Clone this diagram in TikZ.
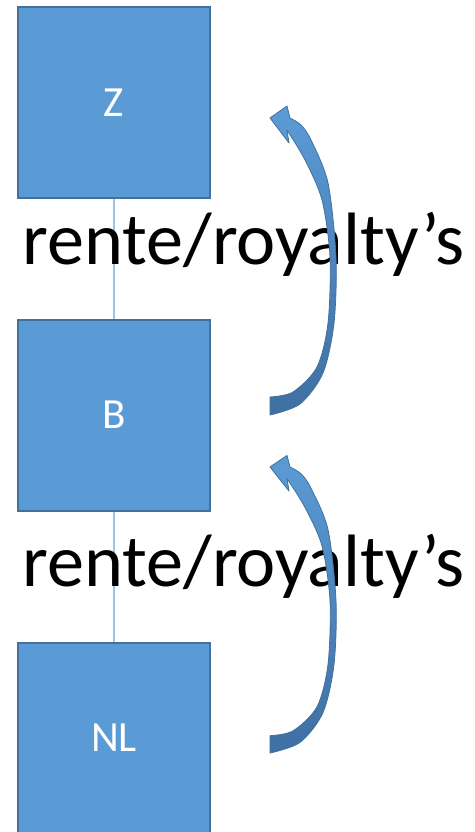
\documentclass[tikz,border=0pt]{standalone}
\usepackage{fontspec}
\setmainfont{Carlito}
\definecolor{boxfill}{HTML}{5B9BD5}
\definecolor{boxline}{HTML}{41719C}
\definecolor{linkline}{HTML}{9DC3E6}
\definecolor{arrowdark}{HTML}{3F6FA3}
\begin{document}
\begin{tikzpicture}[x=1pt,y=-1pt,
  blockbox/.style={draw=boxline, line width=2pt, fill=boxfill, minimum width=192pt, minimum height=191pt, inner sep=0pt, text=white, font=\fontsize{43}{43}\selectfont},
  linkstyle/.style={draw=linkline, line width=1.2pt},
  bigtext/.style={inner sep=0pt, anchor=base west, font=\fontsize{74.2}{74}\selectfont},
  curvearrow/.style={top color=boxfill, bottom color=arrowdark, draw=boxline, line width=0.8pt, line join=round}]
\useasboundingbox (0,0) rectangle (474,832);
\begin{scope}
\clip (0,0) rectangle (474,832);
\node[blockbox] (Z) at (114,102.5) {Z};
\node[blockbox] (B) at (114,415) {B};
\node[blockbox] (NL) at (114,738) {NL};
\draw[linkstyle] (Z.south) -- (B.north);
\draw[linkstyle] (B.south) -- (NL.north);
\end{scope}
\node[bigtext] (t1) at (22,264) {rente/royalty’s};
\node[bigtext] (t2) at (22,586) {rente/royalty’s};
% curved arrows
\foreach \ty/\sc in {118/1, 467/0.963}{
\begin{scope}[shift={(0,\ty)}]
\begin{scope}[yscale=\sc]
\path[curvearrow] (270,0) -- (287,-12) -- (290,0)
  -- plot[smooth] coordinates {(290,0) (301,7) (311,22) (328,65) (336,139) (334,205) (323,255) (300,286) (270,297)}
  -- (270,279)
  -- plot[smooth] coordinates {(270,279) (293,274) (317,249) (328,205) (330,139) (322,82) (305,42) (287,12)}
  -- (289,25) -- cycle;
\end{scope}
\end{scope}
}
\end{tikzpicture}
\end{document}
